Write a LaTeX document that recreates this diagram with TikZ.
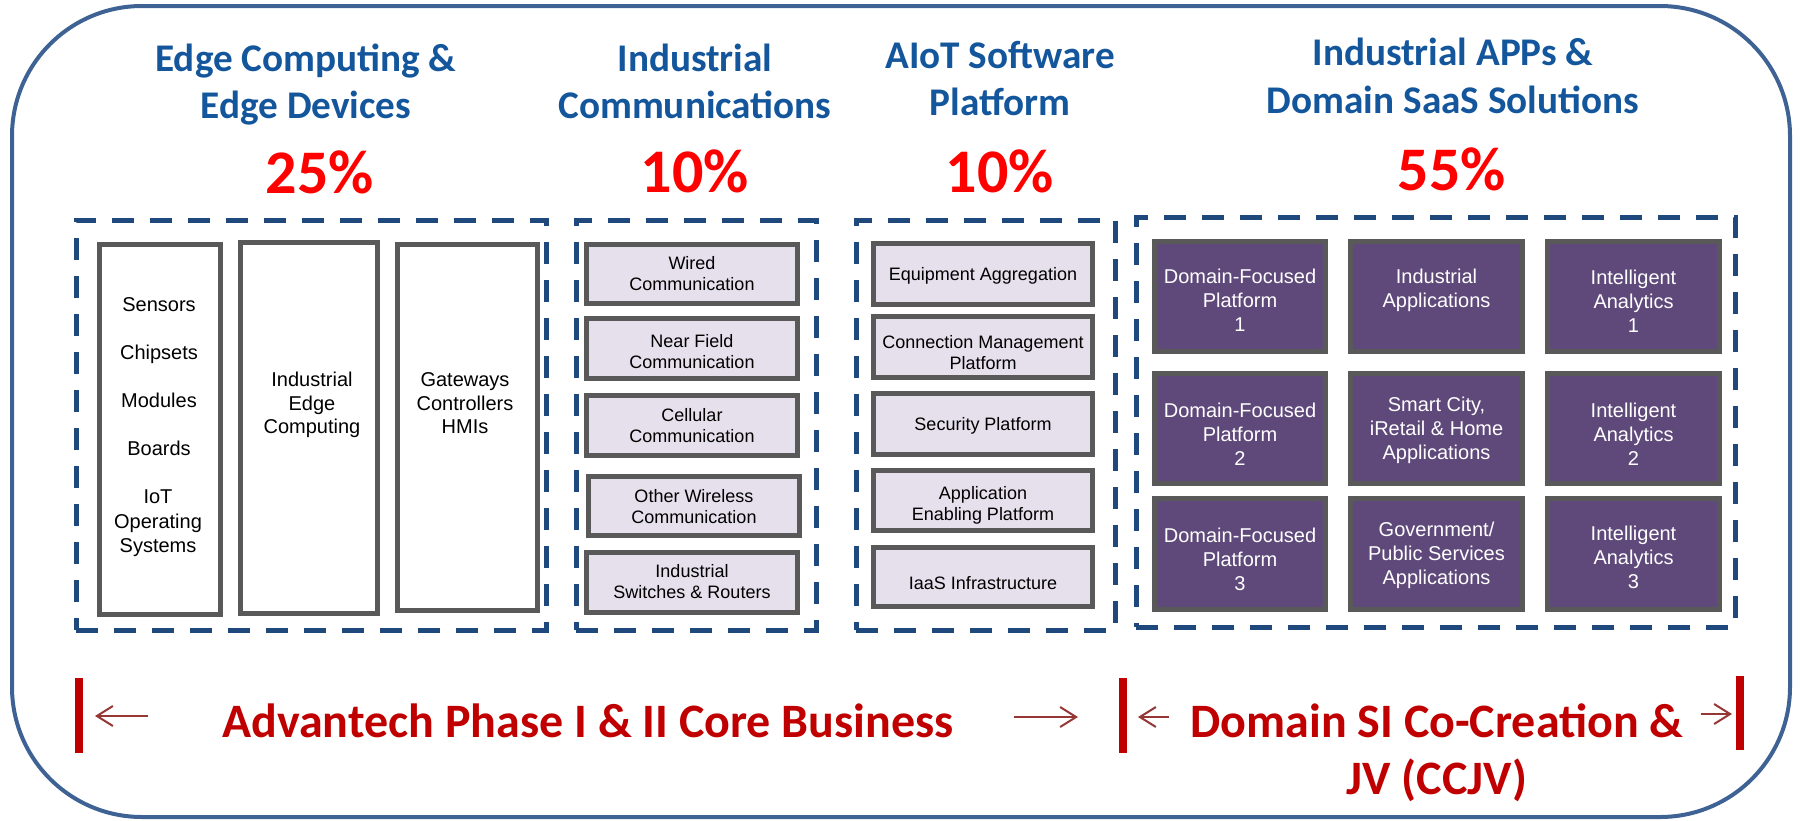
\documentclass[tikz,border=0pt]{standalone}
\usepackage{fontspec}
\setmainfont{Liberation Sans}
\newfontfamily\calib{Carlito}
\usetikzlibrary{fit,arrows.meta}
\definecolor{frameblue}{RGB}{62,98,148}
\definecolor{dashblue}{RGB}{31,73,125}
\definecolor{headblue}{RGB}{20,86,156}
\definecolor{boxgray}{RGB}{89,89,89}
\definecolor{lav}{RGB}{229,224,236}
\definecolor{purp}{RGB}{95,73,122}
\definecolor{pctred}{RGB}{255,0,0}
\definecolor{darkred}{RGB}{192,0,0}
\definecolor{arrowred}{RGB}{149,55,53}
\begin{document}
\begin{tikzpicture}[x=0.5pt,y=-0.5pt,
  outerframe/.style={draw=frameblue,line width=2pt,rounded corners=65pt},
  groupbox/.style={draw=dashblue,line width=2.5pt,dash pattern=on 11pt off 8pt,inner sep=0pt},
  whitebox/.style={draw=boxgray,line width=2.2pt,fill=white,inner sep=0pt},
  listbox/.style={draw=boxgray,line width=2.3pt,fill=lav,inner sep=0pt},
  listtxt/.style={inner sep=0pt,align=center,font=\fontsize{9}{10.5}\selectfont},
  gridbox/.style={draw=boxgray,line width=2.6pt,fill=purp,inner sep=0pt},
  gridtxt/.style={text=white,inner sep=0pt,align=center,font=\fontsize{10}{12}\selectfont},
  plaintext/.style={font=\fontsize{10}{12}\selectfont,anchor=base,inner sep=0pt},
  headtxt/.style={font=\calib\bfseries\fontsize{19.6}{23}\selectfont,text=headblue,anchor=base,inner sep=0pt},
  pcttxt/.style={font=\calib\bfseries\fontsize{31}{36}\selectfont,text=pctred,anchor=base,inner sep=0pt},
  foottxt/.style={font=\calib\bfseries\fontsize{24}{28.5}\selectfont,text=darkred,anchor=base,inner sep=0pt},
  redbar/.style={draw=darkred,line width=4pt},
  spanarrow/.style={draw=arrowred,line width=1pt,-{Straight Barb[length=8pt,width=10pt]}}
]
\useasboundingbox (0,0) rectangle (1800,820);
\draw[outerframe] (12,6) rectangle (1790,817);

% headers
\node[headtxt] (h1a) at (306,71) {Edge Computing \&};
\node[headtxt] (h1b) at (306,118) {Edge Devices};
\node[pcttxt] (p1) at (320,193) {25\%};
\node[headtxt] (h2a) at (695,71) {Industrial};
\node[headtxt] (h2b) at (695,118) {Communications};
\node[pcttxt] (p2) at (695,192) {10\%};
\node[headtxt] (h3a) at (1000,68) {AIoT Software};
\node[headtxt] (h3b) at (1000,115) {Platform};
\node[pcttxt] (p3) at (1000,192) {10\%};
\node[headtxt] (h4a) at (1453,65) {Industrial APPs \&};
\node[headtxt] (h4b) at (1453,113) {Domain SaaS Solutions};
\node[pcttxt] (p4) at (1452,190) {55\%};

% group 1
\node[groupbox, fit={(76,220) (546,630)}] (g1) {};
\node[whitebox, fit={(99.5,244.5) (220.5,614.5)}] (c1) {};
\node[whitebox, fit={(240.5,242.5) (377.5,613.5)}] (c2) {};
\node[whitebox, fit={(397.5,244.5) (537.5,610.5)}] (c3) {};
\node[plaintext] (t1) at (159,311) {Sensors};
\node[plaintext] (t2) at (159,359) {Chipsets};
\node[plaintext] (t3) at (159,407) {Modules};
\node[plaintext] (t4) at (159,455) {Boards};
\node[plaintext] (t5a) at (158,503) {IoT};
\node[plaintext] (t5b) at (158,528) {Operating};
\node[plaintext] (t5c) at (158,552) {Systems};
\node[plaintext] (e1) at (312,386) {Industrial};
\node[plaintext] (e2) at (312,410) {Edge};
\node[plaintext] (e3) at (312,433) {Computing};
\node[plaintext] (w1) at (465,386) {Gateways};
\node[plaintext] (w2) at (465,410) {Controllers};
\node[plaintext] (w3) at (465,433) {HMIs};

% group 2
\node[groupbox, fit={(576,220) (816,630)}] (g2) {};
\node[listbox, fit={(586.5,244.5) (797.5,303.5)}] (m1) {};
\node[listbox, fit={(586.5,318.5) (797.5,378.5)}] (m2) {};
\node[listbox, fit={(586.5,395.5) (797.5,455.5)}] (m3) {};
\node[listbox, fit={(588.5,476.5) (799.5,535.5)}] (m4) {};
\node[listbox, fit={(586.5,552.5) (797.5,612.5)}] (m5) {};
\node[listtxt] (m1t) at (m1.center) {Wired\\Communication};
\node[listtxt, yshift=-1.5pt] (m2t) at (m2.center) {Near Field\\Communication};
\node[listtxt] (m3t) at (m3.center) {Cellular\\Communication};
\node[listtxt, yshift=-0.5pt] (m4t) at (m4.center) {Other Wireless\\Communication};
\node[listtxt, yshift=0.5pt] (m5t) at (m5.center) {Industrial\\Switches \& Routers};

% group 3
\node[groupbox, fit={(856,220) (1115,630)}] (g3) {};
\node[listbox, fit={(873.5,243.5) (1092.5,304.5)}] (s1) {};
\node[listbox, fit={(873.5,316.5) (1092.5,377.5)}] (s2) {};
\node[listbox, fit={(873.5,393.5) (1092.5,454.5)}] (s3) {};
\node[listbox, fit={(873.5,470.5) (1092.5,530.5)}] (s4) {};
\node[listbox, fit={(873.5,547.5) (1092.5,606.5)}] (s5) {};
\node[listtxt, yshift=-1pt] (s1t) at (s1.center) {Equipment Aggregation};
\node[listtxt, yshift=-2.7pt] (s2t) at (s2.center) {Connection Management\\Platform};
\node[listtxt, yshift=-1pt] (s3t) at (s3.center) {Security Platform};
\node[listtxt, yshift=-2.2pt] (s4t) at (s4.center) {Application\\Enabling Platform};
\node[listtxt, yshift=-3.2pt] (s5t) at (s5.center) {IaaS Infrastructure};

% group 4
\node[groupbox, fit={(1136,217) (1735,627)}] (g4) {};
\node[gridbox, fit={(1154.5,241.5) (1325.5,351.5)}] (d11) {};
\node[gridbox, fit={(1350.5,241.5) (1522.5,351.5)}] (d12) {};
\node[gridbox, fit={(1547.5,241.5) (1719.5,351.5)}] (d13) {};
\node[gridbox, fit={(1154.5,373.5) (1325.5,483.5)}] (d21) {};
\node[gridbox, fit={(1350.5,373.5) (1522.5,483.5)}] (d22) {};
\node[gridbox, fit={(1547.5,373.5) (1719.5,483.5)}] (d23) {};
\node[gridbox, fit={(1154.5,498.5) (1325.5,609.5)}] (d31) {};
\node[gridbox, fit={(1350.5,498.5) (1522.5,609.5)}] (d32) {};
\node[gridbox, fit={(1547.5,498.5) (1719.5,609.5)}] (d33) {};
\node[gridtxt, yshift=-1.8pt] (d11t) at (d11.center) {Domain-Focused\\Platform\\1};
\node[gridtxt, yshift=3.1pt] (d12t) at (d12.center) {Industrial\\Applications};
\node[gridtxt, yshift=-2.3pt] (d13t) at (d13.center) {Intelligent\\Analytics\\1};
\node[gridtxt, yshift=-2.8pt] (d21t) at (d21.center) {Domain-Focused\\Platform\\2};
\node[gridtxt, yshift=-1.1pt] (d22t) at (d22.center) {Smart City,\\iRetail \& Home\\Applications};
\node[gridtxt, yshift=-3.1pt] (d23t) at (d23.center) {Intelligent\\Analytics\\2};
\node[gridtxt, yshift=-2.6pt] (d31t) at (d31.center) {Domain-Focused\\Platform\\3};
\node[gridtxt, yshift=-0.6pt] (d32t) at (d32.center) {Government/\\Public Services\\Applications};
\node[gridtxt, yshift=-1.7pt] (d33t) at (d33.center) {Intelligent\\Analytics\\3};

% footer bars
\coordinate (b1t) at (78.5,678); \coordinate (b1b) at (78.5,753);
\coordinate (b2t) at (1123,678); \coordinate (b2b) at (1123,753);
\coordinate (b3t) at (1740,676); \coordinate (b3b) at (1740,750);
\draw[redbar] (b1t) -- (b1b);
\draw[redbar] (b2t) -- (b2b);
\draw[redbar] (b3t) -- (b3b);

% footer arrows
\coordinate (a1s) at (148,716); \coordinate (a1e) at (95,716);
\coordinate (a2s) at (1014,717); \coordinate (a2e) at (1078,717);
\coordinate (a3s) at (1169,717); \coordinate (a3e) at (1138,717);
\coordinate (a4s) at (1701,714); \coordinate (a4e) at (1732,714);
\draw[spanarrow] (a1s) -- (a1e);
\draw[spanarrow] (a2s) -- (a2e);
\draw[spanarrow] (a3s) -- (a3e);
\draw[spanarrow] (a4s) -- (a4e);

% footer texts
\node[foottxt] (f1) at (588,737) {Advantech Phase I \& II Core Business};
\node[foottxt] (f2) at (1437,737) {Domain SI Co-Creation \&};
\node[foottxt] (f3) at (1437,794) {JV (CCJV)};
\end{tikzpicture}
\end{document}
